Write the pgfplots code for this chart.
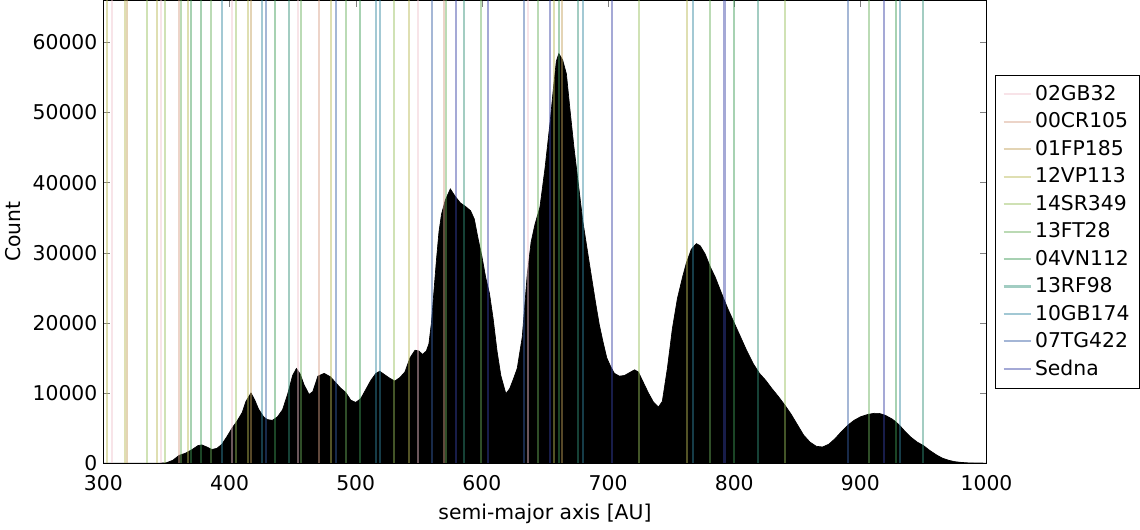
\documentclass[border=0pt]{standalone}
\usepackage{pgfplots}
\pgfplotsset{compat=1.18}
\usepackage{fontspec}
\setmainfont{DejaVu Sans}
\definecolor{cA}{RGB}{240,195,205}
\definecolor{cB}{RGB}{215,160,135}
\definecolor{cC}{RGB}{195,160,90}
\definecolor{cD}{RGB}{185,185,85}
\definecolor{cE}{RGB}{150,190,90}
\definecolor{cF}{RGB}{105,175,90}
\definecolor{cG}{RGB}{60,155,85}
\definecolor{cH}{RGB}{50,145,120}
\definecolor{cI}{RGB}{50,135,160}
\definecolor{cJ}{RGB}{55,95,165}
\definecolor{cK}{RGB}{55,65,165}
\begin{document}
\begin{tikzpicture}
\begin{axis}[
  scale only axis,
  width=521pt, height=273pt,
  xmin=300, xmax=1000, ymin=0, ymax=66000,
  xtick={300,400,...,1000},
  ytick={0,10000,...,60000},
  scaled y ticks=false,
  /pgf/number format/set thousands separator={},
  /pgf/number format/assume math mode=true,
  tick label style={font=\fontsize{12}{14}\selectfont},
  xticklabel style={yshift=-3.5pt},
  label style={font=\fontsize{12}{14}\selectfont},
  xlabel={semi-major axis [AU]},
  xlabel style={yshift=-1pt},
  ylabel={Count},
  major tick length=4pt,
  legend image code/.code={\draw[#1] (0pt,0pt) -- (16pt,0pt);},
  legend style={at={(1.01,0.5)}, anchor=west, draw=black, font=\fontsize{12}{14}\selectfont,
    row sep=1.8pt, inner xsep=4pt, inner ysep=4pt},
  legend cell align=left,
]
\addplot[fill=black, draw=black, line width=0.4pt, forget plot] coordinates {
(300,0)(345,0)(350,50)(355,400)(360,1100)(365,1400)(370,1900)(375,2500)(378,2600)(382,2300)(386,1950)(390,2100)(394,2700)(398,3800)(402,5000)(406,6000)(410,7200)(413,8800)(417,10000)(420,9000)(423,7700)(427,6600)(430,6200)(434,6100)(438,6600)(442,7600)(446,9800)(450,12500)(453,13500)(456,12700)(459,11200)(463,9800)(466,10200)(470,12400)(475,12800)(480,12300)(484,11500)(488,10700)(492,10100)(496,9000)(500,8650)(504,9200)(508,10500)(512,11800)(516,12800)(519,13100)(523,12600)(527,12100)(531,11700)(535,12200)(539,13000)(543,15000)(547,16100)(550,16000)(553,15500)(556,16000)(558,17000)(560,20000)(562,24500)(564,29000)(566,33000)(568,35500)(571,37500)(575,39100)(579,38000)(583,37100)(587,36600)(591,36000)(594,34800)(597,32000)(600,29500)(603,26500)(606,24200)(609,20500)(612,16000)(615,12500)(619,9900)(622,10600)(625,12000)(628,13500)(632,18000)(636,27000)(639,31500)(642,34000)(646,36500)(650,42000)(654,48500)(657,54000)(659,57300)(661,58400)(664,57500)(667,55500)(670,50100)(673,45000)(676,40500)(680,34500)(685,28700)(690,23000)(693,19800)(696,17300)(699,15000)(702,13800)(705,12800)(709,12400)(713,12500)(717,12900)(721,13300)(724,13000)(728,11500)(732,10000)(736,8700)(740,8000)(743,8800)(747,13500)(751,19200)(755,23500)(759,26500)(762,28500)(766,30500)(770,31300)(773,31000)(777,29800)(781,28000)(785,26500)(790,24200)(795,22000)(800,20000)(805,18000)(810,16000)(815,14200)(820,12800)(825,11800)(830,10600)(835,9500)(840,8300)(845,7000)(850,5500)(855,4000)(860,3000)(865,2400)(870,2300)(875,2700)(880,3500)(885,4500)(890,5400)(895,6100)(900,6600)(906,6950)(911,7100)(915,7090)(920,6800)(925,6300)(928,5900)(932,5200)(936,4400)(940,3700)(945,3000)(950,2500)(955,1800)(960,1200)(965,700)(970,400)(975,200)(980,100)(985,40)(990,15)(1000,0)
} \closedcycle;
\addplot[ycomb, draw=cA, opacity=0.45, line width=1.2pt, mark=none] coordinates {(306.6,66000)(345.8,66000)(401.9,66000)(453.9,66000)(549.2,66000)(636.8,66000)};
\addlegendentry{02GB32}
\addplot[ycomb, draw=cB, opacity=0.45, line width=1.2pt, mark=none] coordinates {(359.6,66000)(471,66000)(570.3,66000)};
\addlegendentry{00CR105}
\addplot[ycomb, draw=cC, opacity=0.45, line width=1.2pt, mark=none] coordinates {(318.7,66000)(416.9,66000)(663.2,66000)};
\addlegendentry{01FP185}
\addplot[ycomb, draw=cD, opacity=0.45, line width=1.2pt, mark=none] coordinates {(302.8,66000)(316.8,66000)(342.3,66000)(367,66000)(414.3,66000)(480.3,66000)(542.6,66000)(657.1,66000)(762.4,66000)};
\addlegendentry{12VP113}
\addplot[ycomb, draw=cE, opacity=0.45, line width=1.2pt, mark=none] coordinates {(334.6,66000)(348.7,66000)(405.1,66000)(530.2,66000)(724.4,66000)(840.3,66000)};
\addlegendentry{14SR349}
\addplot[ycomb, draw=cF, opacity=0.45, line width=1.2pt, mark=none] coordinates {(361.2,66000)(385,66000)(456.5,66000)(492.1,66000)(571.6,66000)(599.3,66000)(644.7,66000)(780.9,66000)(906.8,66000)};
\addlegendentry{13FT28}
\addplot[ycomb, draw=cG, opacity=0.45, line width=1.2pt, mark=none] coordinates {(369.1,66000)(377,66000)(436.2,66000)(503.7,66000)(661.1,66000)(800.2,66000)(928.4,66000)};
\addlegendentry{04VN112}
\addplot[ycomb, draw=cH, opacity=0.45, line width=1.2pt, mark=none] coordinates {(447.3,66000)(585.6,66000)(676.4,66000)(818.9,66000)(949.5,66000)};
\addlegendentry{13RF98}
\addplot[ycomb, draw=cI, opacity=0.45, line width=1.2pt, mark=none] coordinates {(394,66000)(426.1,66000)(516.4,66000)(519.1,66000)(679.8,66000)(767.2,66000)(931.5,66000)};
\addlegendentry{10GB174}
\addplot[ycomb, draw=cJ, opacity=0.45, line width=1.2pt, mark=none] coordinates {(428.8,66000)(484.2,66000)(560.5,66000)(633.4,66000)(890.2,66000)};
\addlegendentry{07TG422}
\addplot[ycomb, draw=cK, opacity=0.45, line width=1.2pt, mark=none] coordinates {(579.8,66000)(605.1,66000)(653.9,66000)(702.8,66000)(792.3,66000)(918.9,66000)};
\addlegendentry{Sedna}
\end{axis}
\end{tikzpicture}
\end{document}
